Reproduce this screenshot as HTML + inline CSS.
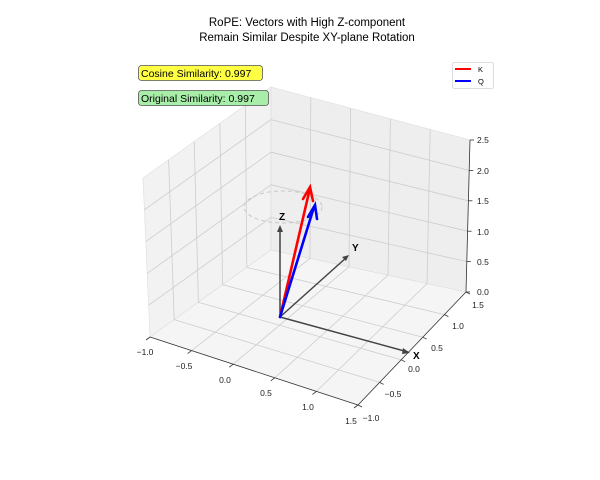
<!DOCTYPE html>
<html><head><meta charset="utf-8"><style>
body{margin:0;background:#fff}
svg{display:block;font-family:"Liberation Sans",sans-serif}
</style></head><body>
<svg width="600" height="480" viewBox="0 0 600 480">
<rect width="600" height="480" fill="#fff"/>
<text x="307" y="26" font-size="11.5" text-anchor="middle">RoPE: Vectors with High Z-component</text>
<text x="307" y="41" font-size="11.5" text-anchor="middle">Remain Similar Despite XY-plane Rotation</text>
<polygon points="143,178 271,87 271,250 150,337" fill="#f2f2f2" stroke="#ddd" stroke-width="0.6"/>
<polygon points="271,87 470,140 466,292 271,250" fill="#eeeeee" stroke="#ddd" stroke-width="0.6"/>
<polygon points="150,337 358,405 466,292 271,250" fill="#f5f5f5" stroke="#ddd" stroke-width="0.6"/>
<g id="grid" stroke="#cdcdcd" stroke-width="0.8" fill="none"></g>
<line x1="150" y1="337" x2="358" y2="405" stroke="#333" stroke-width="0.8"/>
<line x1="358" y1="405" x2="466" y2="292" stroke="#333" stroke-width="0.8"/>
<line x1="470" y1="140" x2="466" y2="292" stroke="#333" stroke-width="0.8"/>
<g id="ticks" stroke="#333" stroke-width="0.8"></g>
<g font-size="8.5" fill="#222">
<text x="145" y="355" text-anchor="middle">−1.0</text>
<text x="184" y="369" text-anchor="middle">−0.5</text>
<text x="225" y="383" text-anchor="middle">0.0</text>
<text x="266" y="396" text-anchor="middle">0.5</text>
<text x="308" y="410" text-anchor="middle">1.0</text>
<text x="351" y="424" text-anchor="middle">1.5</text>
<text x="371" y="421" text-anchor="middle">−1.0</text>
<text x="393" y="397" text-anchor="middle">−0.5</text>
<text x="414" y="372" text-anchor="middle">0.0</text>
<text x="437" y="351" text-anchor="middle">0.5</text>
<text x="458" y="329" text-anchor="middle">1.0</text>
<text x="478" y="308" text-anchor="middle">1.5</text>
<text x="477" y="295">0.0</text>
<text x="477" y="265">0.5</text>
<text x="477" y="235">1.0</text>
<text x="477" y="204">1.5</text>
<text x="477" y="174">2.0</text>
<text x="477" y="143">2.5</text>
</g>
<ellipse cx="283" cy="207" rx="39" ry="16" fill="none" stroke="#c8c8c8" stroke-width="1" stroke-dasharray="4,3"/>
<g stroke="#444" stroke-width="1.5" fill="#444">
<line x1="280" y1="317" x2="408" y2="352"/>
<polygon points="410,353 403,348 402,354" stroke="none"/>
<line x1="280" y1="317" x2="347" y2="257"/>
<polygon points="349,255 342,257 346,261" stroke="none"/>
<line x1="280" y1="317" x2="280" y2="228"/>
<polygon points="280,225 277,232 283,232" stroke="none"/>
</g>
<g font-size="10" font-weight="bold">
<text x="413" y="359">X</text>
<text x="352" y="251">Y</text>
<text x="279" y="220">Z</text>
</g>
<g fill="none" stroke-width="2.6" stroke-linecap="round">
<line x1="280" y1="317" x2="310" y2="188" stroke="#f00"/>
<polyline points="303,199 310,187 313,201" stroke="#f00"/>
<line x1="280" y1="317" x2="314" y2="207" stroke="#00f"/>
<polyline points="308,217 315,205 317,219" stroke="#00f"/>
</g>
<rect x="138.5" y="65.5" width="124" height="15" rx="3" fill="#ffff44" stroke="#555" stroke-width="0.8"/>
<text x="141" y="77" font-size="10.5">Cosine Similarity: 0.997</text>
<rect x="138.5" y="90.5" width="130" height="15" rx="3" fill="#a8eea8" stroke="#555" stroke-width="0.8"/>
<text x="141" y="102" font-size="10.5">Original Similarity: 0.997</text>
<rect x="452.5" y="62.5" width="41" height="26" rx="2" fill="#fff" stroke="#ddd"/>
<line x1="455" y1="69" x2="471" y2="69" stroke="#f00" stroke-width="2"/>
<line x1="455" y1="81" x2="471" y2="81" stroke="#00f" stroke-width="2"/>
<text x="478" y="72" font-size="7.5">K</text>
<text x="478" y="84" font-size="7.5">Q</text>
</svg>
<script>
(function(){
var g=document.getElementById('grid'),t=document.getElementById('ticks'),NS='http://www.w3.org/2000/svg';
function L(p,q,par){var l=document.createElementNS(NS,'line');l.setAttribute('x1',p[0]);l.setAttribute('y1',p[1]);l.setAttribute('x2',q[0]);l.setAttribute('y2',q[1]);(par||g).appendChild(l);}
function lerp(a,b,f){return [a[0]+(b[0]-a[0])*f,a[1]+(b[1]-a[1])*f];}
var LT=[143,178],LB=[150,337],BT=[271,87],BB=[271,250],RT=[470,140],RB=[466,292],FB=[358,405];
for(var i=1;i<5;i++){var f=i/5;
 L(lerp(LT,BT,f),lerp(LB,BB,f));L(lerp(LB,LT,f),lerp(BB,BT,f));
 L(lerp(BT,RT,f),lerp(BB,RB,f));L(lerp(BB,BT,f),lerp(RB,RT,f));
 L(lerp(LB,FB,f),lerp(BB,RB,f));L(lerp(LB,BB,f),lerp(FB,RB,f));
}
for(var i=0;i<=5;i++){var f=i/5;
 var p=lerp(LB,FB,f);L(p,[p[0]-4,p[1]+3],t);
 var q=lerp(FB,RB,f);L(q,[q[0]+4,q[1]+2],t);
 var r=lerp(RB,RT,f);L(r,[r[0]+4,r[1]],t);
}
})();
</script>
</body></html>
